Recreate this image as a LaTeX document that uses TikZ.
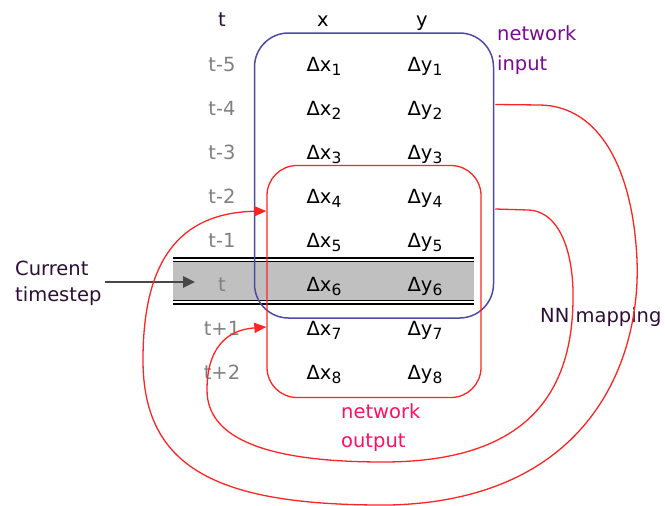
\documentclass[tikz,border=0pt]{standalone}
\usepackage{fontspec}
\setmainfont{DejaVu Sans}
\usetikzlibrary{arrows.meta}
\definecolor{inblue}{HTML}{4B4BA6}
\definecolor{outred}{HTML}{FF2424}
\definecolor{labgray}{HTML}{808080}
\definecolor{bandgray}{HTML}{C0C0C0}
\definecolor{inpurple}{HTML}{7A0A96}
\definecolor{outpink}{HTML}{FF1060}
\definecolor{darktext}{HTML}{2E0E36}
\newcommand\dsub[1]{\raisebox{-0.4ex}{\fontsize{15.5}{15.5}\selectfont #1}}
\tikzset{
  txt/.style={inner sep=0pt, anchor=base, font=\fontsize{19.5}{24}\selectfont},
  rowlab/.style={txt, text=labgray},
  cell/.style={txt, text=black},
  inbox/.style={draw=inblue, line width=1.5pt, rounded corners=34pt, inner sep=0pt},
  outbox/.style={draw=outred, line width=1.3pt, rounded corners=30pt, inner sep=0pt},
  mapping/.style={draw=outred, line width=1.3pt, -{Triangle[length=12pt,width=10pt]}},
}
\begin{document}
\begin{tikzpicture}[x=1pt, y=-1pt]
\useasboundingbox (0,0) rectangle (665,506);

% highlighted current row
\fill[bandgray] (173,261.5) rectangle (474,300.5);
\draw[line width=1.8pt] (173,257.8) -- (474,257.8);
\draw[line width=1.1pt] (173,261.5) -- (474,261.5);
\draw[line width=1.1pt] (173,300.3) -- (474,300.3);
\draw[line width=1.8pt] (173,303.8) -- (474,303.8);

% network input / output windows
\node[inbox, minimum width=239pt, minimum height=285pt] (inwin) at (374,175.5) {};
\node[outbox, minimum width=214pt, minimum height=232pt] (outwin) at (374,281.5) {};

% column headers
\node[txt, text=darktext] (ht) at (222,27) {t};
\node[txt] (hx) at (323,27) {x};
\node[txt] (hy) at (422,27) {y};

% rows
\foreach \i/\lab [count=\k] in {1/t-5,2/t-4,3/t-3,4/t-2,5/t-1,6/t,7/t+1,8/t+2} {
  \pgfmathsetmacro{\yb}{71+44*(\k-1)}
  \node[rowlab] (r\i) at (222,\yb) {\lab};
  \node[cell] (dx\i) at (324,\yb) {Δx\dsub{\i}};
  \node[cell] (dy\i) at (425,\yb) {Δy\dsub{\i}};
}

% labels
\node[txt, anchor=base west, text=inpurple] (lin1) at (497,40) {network};
\node[txt, anchor=base west, text=inpurple] (lin2) at (497,70) {input};
\node[txt, anchor=base west, text=outpink] (lout1) at (341,418) {network};
\node[txt, anchor=base west, text=outpink] (lout2) at (341,447) {output};
\node[txt, anchor=base west, text=darktext] (nn) at (540,322) {NN mapping};
\node[txt, anchor=west, align=left, text=darktext, font=\fontsize{19.5}{26}\selectfont] (cur) at (15,283) {Current\\timestep};

% current timestep pointer
\coordinate (curtip) at (195,282);
\draw[draw=black!72, line width=2.6pt, -{Triangle[length=12pt,width=11pt]}, shorten <=3pt] (cur.east |- curtip) -- (curtip);

% NN mapping arrows
\coordinate (o1) at (inwin.east |- 0,104.5);
\coordinate (o2) at (inwin.east |- 0,209);
\coordinate (t1) at (outwin.west |- 0,211);
\coordinate (t2) at (outwin.west |- 0,327);
\draw[mapping] ([xshift=1pt]o1) -- (540,105)
  .. controls (600,106) and (633,170) .. (637,260)
  .. controls (641,360) and (590,500) .. (390,505)
  .. controls (220,506) and (143,470) .. (143,360)
  .. controls (143,262) and (178,213) .. (t1);
\draw[mapping] ([xshift=1pt]o2) -- (528,210)
  .. controls (562,211) and (574,258) .. (573,300)
  .. controls (572,400) and (520,462) .. (383,462)
  .. controls (270,462) and (207,440) .. (207,390)
  .. controls (207,350) and (225,330) .. (t2);
\end{tikzpicture}
\end{document}
